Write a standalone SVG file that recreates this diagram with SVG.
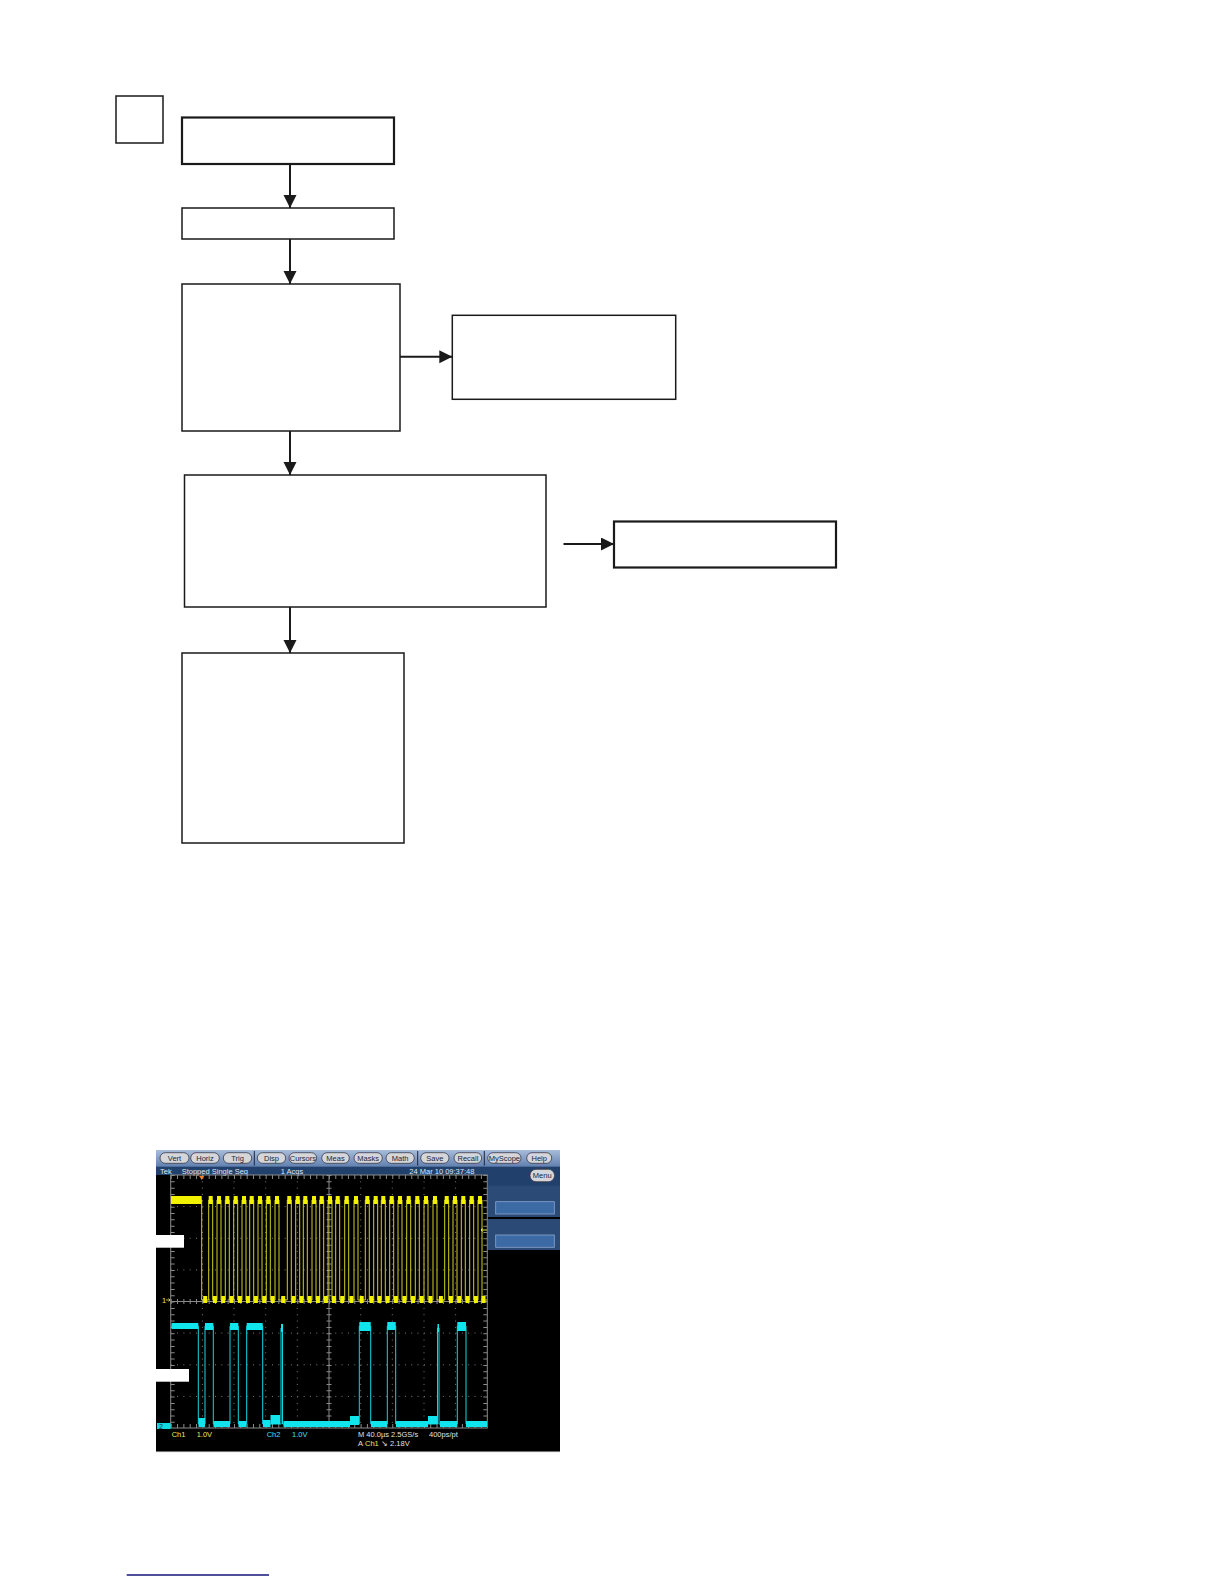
<svg xmlns="http://www.w3.org/2000/svg" width="1224" height="1584" viewBox="0 0 1224 1584">
<style>
.box{fill:#fff;stroke:#1a1a1a;stroke-width:1.5}
.bold{stroke-width:2.2}
.conn{stroke:#1a1a1a;stroke-width:2;fill:none}
.btn{fill:#d4d6da;stroke:#3a3a4a;stroke-width:0.8}
.btxt{font-family:"Liberation Sans",Arial,sans-serif;font-size:7.5px;fill:#1c2440;text-anchor:middle}
.stxt{font-family:"Liberation Sans",Arial,sans-serif;font-size:7.5px;fill:#dfe6f2}
.ytxt{font-family:"Liberation Sans",Arial,sans-serif;font-size:7.5px;fill:#e8e860}
.ctxt{font-family:"Liberation Sans",Arial,sans-serif;font-size:7.5px;fill:#40e0e8}
.wtxt{font-family:"Liberation Sans",Arial,sans-serif;font-size:7.5px;fill:#e0e0e0}
.grid{stroke:#7a7a7a;stroke-width:1;stroke-dasharray:1 5.33;fill:none}
.yb{fill:#f2f200}
.cb{fill:#10e4ec}
</style>
<defs>
<marker id="ah" markerUnits="userSpaceOnUse" markerWidth="14" markerHeight="14" refX="13" refY="6.5" orient="auto">
<path d="M0,0 L13,6.5 L0,13 Z" fill="#1a1a1a"/>
</marker>
<linearGradient id="tb" x1="0" y1="0" x2="0" y2="1">
<stop offset="0" stop-color="#a9bddb"/>
<stop offset="1" stop-color="#5f7fae"/>
</linearGradient>
</defs>

<g id="tag"><rect class="box" x="116" y="96" width="47" height="47" stroke-width="1.2"/></g>
<g id="n1"><rect class="box bold" x="182" y="117.5" width="212" height="46.5"/></g>
<g id="n2"><rect class="box" x="182" y="208" width="212" height="31"/></g>
<g id="n3"><rect class="box" x="182" y="284" width="218" height="147"/></g>
<g id="n4"><rect class="box" x="452.3" y="315.3" width="223.4" height="84"/></g>
<g id="n5"><rect class="box" x="184.5" y="475" width="361.5" height="132"/></g>
<g id="n6"><rect class="box bold" x="614" y="521.5" width="222" height="46"/></g>
<g id="n7"><rect class="box" x="182" y="653" width="222" height="190"/></g>

<g id="connectors">
<line class="conn" x1="290" y1="164" x2="290" y2="208" marker-end="url(#ah)"/>
<line class="conn" x1="290" y1="239" x2="290" y2="284" marker-end="url(#ah)"/>
<line class="conn" x1="400" y1="356.7" x2="452.3" y2="356.7" marker-end="url(#ah)"/>
<line class="conn" x1="290" y1="431" x2="290" y2="475" marker-end="url(#ah)"/>
<line class="conn" x1="563.5" y1="544" x2="614" y2="544" marker-end="url(#ah)"/>
<line class="conn" x1="290" y1="607" x2="290" y2="653" marker-end="url(#ah)"/>
</g>

<g id="scope">
<rect x="156" y="1150" width="404" height="302" fill="#000"/>
<rect x="156" y="1150" width="404" height="17" fill="url(#tb)"/>
<g>
<rect class="btn" x="160" y="1152.7" width="29" height="10.6" rx="5.3"/><text class="btxt" x="174.5" y="1160.7">Vert</text>
<rect class="btn" x="190.7" y="1152.7" width="28.6" height="10.6" rx="5.3"/><text class="btxt" x="205" y="1160.7">Horiz</text>
<rect class="btn" x="223.3" y="1152.7" width="28.4" height="10.6" rx="5.3"/><text class="btxt" x="237.5" y="1160.7">Trig</text>
<line x1="254.3" y1="1151" x2="254.3" y2="1165.5" stroke="#1c2440" stroke-width="1"/>
<rect class="btn" x="257.3" y="1152.7" width="28.4" height="10.6" rx="5.3"/><text class="btxt" x="271.5" y="1160.7">Disp</text>
<rect class="btn" x="289" y="1152.7" width="27.7" height="10.6" rx="5.3"/><text class="btxt" x="302.9" y="1160.7">Cursors</text>
<rect class="btn" x="321.7" y="1152.7" width="27.6" height="10.6" rx="5.3"/><text class="btxt" x="335.5" y="1160.7">Meas</text>
<rect class="btn" x="354" y="1152.7" width="28.3" height="10.6" rx="5.3"/><text class="btxt" x="368.2" y="1160.7">Masks</text>
<rect class="btn" x="386" y="1152.7" width="28.3" height="10.6" rx="5.3"/><text class="btxt" x="400.2" y="1160.7">Math</text>
<line x1="417.7" y1="1151" x2="417.7" y2="1165.5" stroke="#1c2440" stroke-width="1"/>
<rect class="btn" x="420.7" y="1152.7" width="28.3" height="10.6" rx="5.3"/><text class="btxt" x="434.9" y="1160.7">Save</text>
<rect class="btn" x="454" y="1152.7" width="27.7" height="10.6" rx="5.3"/><text class="btxt" x="467.9" y="1160.7">Recall</text>
<line x1="484.3" y1="1151" x2="484.3" y2="1165.5" stroke="#1c2440" stroke-width="1"/>
<rect class="btn" x="487.7" y="1152.7" width="33.3" height="10.6" rx="5.3"/><text class="btxt" x="504.4" y="1160.7">MyScope</text>
<rect class="btn" x="526.7" y="1152.7" width="25" height="10.6" rx="5.3"/><text class="btxt" x="539.2" y="1160.7">Help</text>
</g>
<rect x="156" y="1166.7" width="404" height="8.3" fill="#22406c"/>
<text class="stxt" x="160" y="1173.6">Tek</text>
<text class="stxt" x="181.7" y="1173.6">Stopped  Single Seq</text>
<text class="stxt" x="280.7" y="1173.6">1 Acqs</text>
<text class="stxt" x="409.3" y="1173.6">24 Mar 10 09:37:48</text>
<rect x="488" y="1175" width="72" height="11" fill="#22406c"/>
<rect class="btn" x="530" y="1169.3" width="24.5" height="12.4" rx="6"/><text class="btxt" x="542.2" y="1178.3">Menu</text>
<rect x="488" y="1185.7" width="72" height="31.3" fill="#2b4a76"/>
<rect x="495.7" y="1201.7" width="58.6" height="12.3" fill="#3c6aa4" stroke="#8aa6cf" stroke-width="0.8"/>
<rect x="488" y="1219" width="72" height="31" fill="#2b4a76"/>
<rect x="495.7" y="1235" width="58.6" height="12.3" fill="#3c6aa4" stroke="#8aa6cf" stroke-width="0.8"/>

<g>
<line class="grid" x1="202.4" y1="1175" x2="202.4" y2="1428"/>
<line class="grid" x1="234" y1="1175" x2="234" y2="1428"/>
<line class="grid" x1="265.7" y1="1175" x2="265.7" y2="1428"/>
<line class="grid" x1="297.3" y1="1175" x2="297.3" y2="1428"/>
<line class="grid" x1="360.7" y1="1175" x2="360.7" y2="1428"/>
<line class="grid" x1="392.3" y1="1175" x2="392.3" y2="1428"/>
<line class="grid" x1="424" y1="1175" x2="424" y2="1428"/>
<line class="grid" x1="455.6" y1="1175" x2="455.6" y2="1428"/>
<line class="grid" x1="170.7" y1="1206.6" x2="487.3" y2="1206.6"/>
<line class="grid" x1="170.7" y1="1238.3" x2="487.3" y2="1238.3"/>
<line class="grid" x1="170.7" y1="1269.9" x2="487.3" y2="1269.9"/>
<line class="grid" x1="170.7" y1="1333.1" x2="487.3" y2="1333.1"/>
<line class="grid" x1="170.7" y1="1364.8" x2="487.3" y2="1364.8"/>
<line class="grid" x1="170.7" y1="1396.4" x2="487.3" y2="1396.4"/>
<line x1="329" y1="1175" x2="329" y2="1428" stroke="#8a8a8a" stroke-width="1"/>
<line x1="170.7" y1="1301.5" x2="487.3" y2="1301.5" stroke="#8a8a8a" stroke-width="1"/>
<line x1="329" y1="1175" x2="329" y2="1428" stroke="#8a8a8a" stroke-width="5" stroke-dasharray="1 5.33"/>
<line x1="170.7" y1="1301.5" x2="487.3" y2="1301.5" stroke="#8a8a8a" stroke-width="5" stroke-dasharray="1 5.33"/>
<rect x="170.7" y="1175" width="316.6" height="253" fill="none" stroke="#8a8a8a" stroke-width="1"/>
<line x1="172.7" y1="1175" x2="172.7" y2="1428" stroke="#8a8a8a" stroke-width="4" stroke-dasharray="1 5.33"/>
<line x1="485.3" y1="1175" x2="485.3" y2="1428" stroke="#8a8a8a" stroke-width="4" stroke-dasharray="1 5.33"/>
<line x1="170.7" y1="1177" x2="487.3" y2="1177" stroke="#8a8a8a" stroke-width="4" stroke-dasharray="1 5.33"/>
<line x1="170.7" y1="1426" x2="487.3" y2="1426" stroke="#8a8a8a" stroke-width="4" stroke-dasharray="1 5.33"/>
</g>

<path d="M199.2,1176 L204.2,1176 L201.7,1180 Z" fill="#f08030"/>

<path fill="none" stroke="#d0d020" stroke-width="1" d="M171,1200 H201.7 V1300 H208.7 V1200 H212.7 V1300 H217 V1200 H221 V1300 H225.3 V1200 H229.3 V1300 H233.7 V1200 H237.7 V1300 H242 V1200 H246 V1300 H249.7 V1200 H253.7 V1300 H258 V1200 H262 V1300 H266.3 V1200 H270.3 V1300 H275 V1200 H279 V1300 H287.3 V1200 H291.3 V1300 H295.7 V1200 H299.7 V1300 H303.3 V1200 H307.3 V1300 H312 V1200 H316 V1300 H319.7 V1200 H323.7 V1300 H328 V1200 H332 V1300 H335.7 V1200 H339.7 V1300 H344.7 V1200 H348.7 V1300 H354 V1200 H358 V1300 H365.3 V1200 H369.3 V1300 H373.7 V1200 H377.7 V1300 H381.3 V1200 H385.3 V1300 H389.7 V1200 H393.7 V1300 H398 V1200 H402 V1300 H406.7 V1200 H410.7 V1300 H415.3 V1200 H419.3 V1300 H424 V1200 H428 V1300 H433 V1200 H437 V1300 H444.7 V1200 H448.7 V1300 H453 V1200 H457 V1300 H461.3 V1200 H465.3 V1300 H469.7 V1200 H473.7 V1300 H478 V1200 H482 V1300 H487"/>
<g class="yb">
<rect x="171" y="1196" width="30.7" height="8"/>
<rect x="208.7" y="1196" width="4" height="8"/><rect x="217" y="1196" width="4" height="8"/><rect x="225.3" y="1196" width="4" height="8"/><rect x="233.7" y="1196" width="4" height="8"/><rect x="242" y="1196" width="4" height="8"/><rect x="249.7" y="1196" width="4" height="8"/><rect x="258" y="1196" width="4" height="8"/><rect x="266.3" y="1196" width="4" height="8"/><rect x="275" y="1196" width="4" height="8"/><rect x="287.3" y="1196" width="4" height="8"/><rect x="295.7" y="1196" width="4" height="8"/><rect x="303.3" y="1196" width="4" height="8"/><rect x="312" y="1196" width="4" height="8"/><rect x="319.7" y="1196" width="4" height="8"/><rect x="328" y="1196" width="4" height="8"/><rect x="335.7" y="1196" width="4" height="8"/><rect x="344.7" y="1196" width="4" height="8"/><rect x="354" y="1196" width="4" height="8"/><rect x="365.3" y="1196" width="4" height="8"/><rect x="373.7" y="1196" width="4" height="8"/><rect x="381.3" y="1196" width="4" height="8"/><rect x="389.7" y="1196" width="4" height="8"/><rect x="398" y="1196" width="4" height="8"/><rect x="406.7" y="1196" width="4" height="8"/><rect x="415.3" y="1196" width="4" height="8"/><rect x="424" y="1196" width="4" height="8"/><rect x="433" y="1196" width="4" height="8"/><rect x="444.7" y="1196" width="4" height="8"/><rect x="453" y="1196" width="4" height="8"/><rect x="461.3" y="1196" width="4" height="8"/><rect x="469.7" y="1196" width="4" height="8"/><rect x="478" y="1196" width="4" height="8"/>
<rect x="203.2" y="1296" width="4" height="7"/><rect x="212.9" y="1296" width="4" height="7"/><rect x="221.2" y="1296" width="4" height="7"/><rect x="229.5" y="1296" width="4" height="7"/><rect x="237.9" y="1296" width="4" height="7"/><rect x="245.9" y="1296" width="4" height="7"/><rect x="253.9" y="1296" width="4" height="7"/><rect x="262.2" y="1296" width="4" height="7"/><rect x="270.7" y="1296" width="4" height="7"/><rect x="281.2" y="1296" width="4" height="7"/><rect x="291.5" y="1296" width="4" height="7"/><rect x="299.5" y="1296" width="4" height="7"/><rect x="307.7" y="1296" width="4" height="7"/><rect x="315.9" y="1296" width="4" height="7"/><rect x="323.9" y="1296" width="4" height="7"/><rect x="331.9" y="1296" width="4" height="7"/><rect x="340.2" y="1296" width="4" height="7"/><rect x="349.4" y="1296" width="4" height="7"/><rect x="359.7" y="1296" width="4" height="7"/><rect x="369.5" y="1296" width="4" height="7"/><rect x="377.5" y="1296" width="4" height="7"/><rect x="385.5" y="1296" width="4" height="7"/><rect x="393.9" y="1296" width="4" height="7"/><rect x="402.4" y="1296" width="4" height="7"/><rect x="411" y="1296" width="4" height="7"/><rect x="419.7" y="1296" width="4" height="7"/><rect x="428.5" y="1296" width="4" height="7"/><rect x="438.9" y="1296" width="4" height="7"/><rect x="448.9" y="1296" width="4" height="7"/><rect x="457.2" y="1296" width="4" height="7"/><rect x="465.5" y="1296" width="4" height="7"/><rect x="473.9" y="1296" width="4" height="7"/><rect x="481.5" y="1296" width="4" height="7"/>
</g>
<text class="ytxt" x="162" y="1303">1</text>
<path d="M166,1300 H170 M168.5,1298.5 L170,1300 L168.5,1301.5" stroke="#e8e860" stroke-width="0.8" fill="none"/>
<path d="M481,1230 H487 M482.5,1228.5 L481,1230 L482.5,1231.5" stroke="#e8e860" stroke-width="1" fill="none"/>

<path fill="none" stroke="#10d8e0" stroke-width="1" d="M171,1326 H198.3 V1424 H205 V1326 H213.3 V1424 H230 V1326 H238.3 V1424 H246.7 V1326 H262.7 V1424 H281 V1328 H282.5 V1424 H359.3 V1326 H370.7 V1424 H387.3 V1326 H395.7 V1424 H437.5 V1328 H439 V1424 H457.3 V1326 H466 V1424 H487"/>
<g class="cb">
<rect x="171.5" y="1323" width="26.8" height="6"/>
<rect x="205" y="1323" width="8.3" height="7"/>
<rect x="230" y="1323" width="8.3" height="7"/>
<rect x="246.7" y="1323" width="16" height="7"/>
<rect x="281" y="1324" width="2" height="8"/>
<rect x="359.3" y="1322" width="11.4" height="9"/>
<rect x="387.3" y="1322" width="8.4" height="8"/>
<rect x="437.5" y="1324" width="1.5" height="8"/>
<rect x="457.3" y="1322" width="8.7" height="9"/>
<rect x="198.5" y="1418" width="6.5" height="9"/>
<rect x="213.5" y="1421" width="16.5" height="6"/>
<rect x="238.5" y="1421" width="8" height="6"/>
<rect x="263" y="1420" width="7.5" height="7"/>
<rect x="270.5" y="1415" width="9.5" height="9"/>
<rect x="283.5" y="1421" width="66.5" height="6"/>
<rect x="350" y="1416" width="9" height="9"/>
<rect x="371" y="1421" width="16.3" height="6"/>
<rect x="396" y="1421" width="32" height="6"/>
<rect x="428" y="1416" width="9" height="8"/>
<rect x="440" y="1421" width="17.3" height="6"/>
<rect x="466" y="1421" width="21" height="6"/>
</g>
<rect x="157" y="1423" width="13.7" height="6" fill="#10d8e0"/>
<text x="159" y="1429" font-family="'Liberation Sans',Arial,sans-serif" font-size="7px" fill="#103040">2</text>

<text class="ytxt" x="171.7" y="1437">Ch1</text>
<text class="ytxt" x="196.7" y="1437">1.0V</text>
<text class="ctxt" x="266.7" y="1437">Ch2</text>
<text class="ctxt" x="292" y="1437">1.0V</text>
<text class="wtxt" x="358" y="1437">M 40.0µs 2.5GS/s</text>
<text class="wtxt" x="429" y="1437">400ps/pt</text>
<text class="wtxt" x="358" y="1445.5">A</text>
<text class="ytxt" x="365" y="1445.5">Ch1</text>
<text class="wtxt" x="381" y="1445.5">↘ 2.18V</text>
<line x1="156" y1="1451.7" x2="560" y2="1451.7" stroke="#b0b0b0" stroke-width="0.8"/>

<rect x="156" y="1235" width="28" height="12.7" fill="#fff"/>
<rect x="156" y="1369" width="33" height="12.7" fill="#fff"/>
</g>

<line x1="126.7" y1="1575" x2="269" y2="1575" stroke="#14147a" stroke-width="1.5"/>
</svg>
